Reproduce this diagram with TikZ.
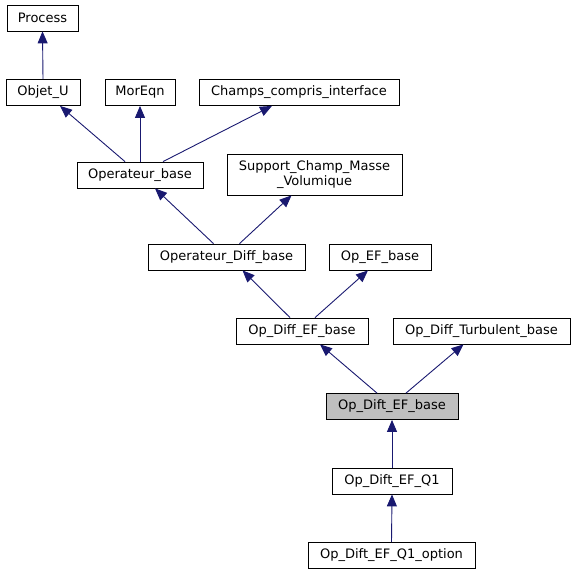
\documentclass[tikz,border=0pt]{standalone}
\usepackage{fontspec}
\setmainfont{DejaVu Sans}
\usetikzlibrary{arrows.meta}
\definecolor{edgeblue}{RGB}{25,25,112}
\definecolor{selgray}{RGB}{191,191,191}
\begin{document}
\begin{tikzpicture}[x=1bp,y=-1bp,
  box/.style={draw=black, line width=0.8bp, fill=white, inner sep=0pt,
    minimum height=26bp, font=\fontsize{13bp}{14.5bp}\selectfont, align=center},
  arr/.style={draw=edgeblue, line width=0.9bp, -{Triangle[length=12bp,width=10bp]}, edgeblue}]
\useasboundingbox (0,0) rectangle (575,575);
\node[box, minimum width=71bp] (process) at (42.5,18) {Process};
\node[box, minimum width=74bp] (objet) at (43,92.5) {Objet\_U};
\node[box, minimum width=70bp] (moreqn) at (140,92.5) {MorEqn};
\node[box, minimum width=200bp] (champs) at (299,92.5) {Champs\_compris\_interface};
\node[box, minimum width=126bp] (opbase) at (140,175) {Operateur\_base};
\node[box, minimum width=175bp, minimum height=41bp] (support) at (314.5,174.5) {Support\_Champ\_Masse\\\_Volumique};
\node[box, minimum width=157bp] (opdiff) at (226.5,257) {Operateur\_Diff\_base};
\node[box, minimum width=102bp] (opef) at (380,257) {Op\_EF\_base};
\node[box, minimum width=132bp] (opdiffef) at (302,331) {Op\_Diff\_EF\_base};
\node[box, minimum width=177bp] (opturb) at (481.5,331) {Op\_Diff\_Turbulent\_base};
\node[box, minimum width=132bp, fill=selgray] (opdift) at (392,406.5) {Op\_Dift\_EF\_base};
\node[box, minimum width=120bp] (q1) at (392,481) {Op\_Dift\_EF\_Q1};
\node[box, minimum width=167bp] (q1opt) at (391.5,555.5) {Op\_Dift\_EF\_Q1\_option};

\draw[arr] (objet.north) -- (process.south);
\draw[arr] ([xshift=-15bp]opbase.north) -- ([xshift=17bp]objet.south);
\draw[arr] (opbase.north) -- (moreqn.south);
\draw[arr] ([xshift=23bp]opbase.north) -- ([xshift=-27bp]champs.south);
\draw[arr] ([xshift=-13bp]opdiff.north) -- ([xshift=15bp]opbase.south);
\draw[arr] ([xshift=13bp]opdiff.north) -- ([xshift=-23bp]support.south);
\draw[arr] ([xshift=-12bp]opdiffef.north) -- ([xshift=16bp]opdiff.south);
\draw[arr] ([xshift=13bp]opdiffef.north) -- ([xshift=-12bp]opef.south);
\draw[arr] ([xshift=-15bp]opdift.north) -- ([xshift=18bp]opdiffef.south);
\draw[arr] ([xshift=14bp]opdift.north) -- ([xshift=-18bp]opturb.south);
\draw[arr] (q1.north) -- (opdift.south);
\draw[arr] (q1opt.north) -- (q1.south);
\end{tikzpicture}
\end{document}
